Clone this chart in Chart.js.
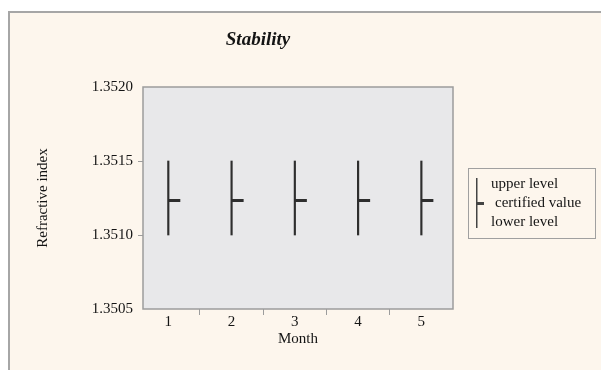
<!DOCTYPE html>
<html><head><meta charset="utf-8">
<script src="https://cdn.jsdelivr.net/npm/chart.js@4/dist/chart.umd.min.js"></script>
<style>html,body{margin:0;padding:0;background:#fff;overflow:hidden;}</style>
</head><body>
<canvas id="c" width="601" height="370"></canvas>
<script>
const months = [1, 2, 3, 4, 5];
const xTickLabels = ['1', '2', '3', '4', '5'];
const upperLevel = [1.3515, 1.3515, 1.3515, 1.3515, 1.3515];
const lowerLevel = [1.3510, 1.3510, 1.3510, 1.3510, 1.3510];
const certifiedValue = [1.35123, 1.35123, 1.35123, 1.35123, 1.35123];
const yTickValues = [1.3505, 1.3510, 1.3515, 1.3520];
const legendLabels = ['upper level', 'certified value', 'lower level'];
const chartTitle = 'Stability';
const xTitle = 'Month';
const yTitle = 'Refractive index';

const SERIF = '"Liberation Serif", "DejaVu Serif", serif';
const INK = '#141414';
const LINE = '#2e2e2e';
const GRAYB = '#9c9c9c';

// dash marker: drawn to the right of the point
const dash = document.createElement('canvas');
dash.width = 26; dash.height = 3;
(function(){ const g = dash.getContext('2d'); g.fillStyle = LINE; g.fillRect(13, 0, 12, 3); })();

const decor = {
  id: 'decor',
  beforeDraw(chart) {
    const ctx = chart.ctx, a = chart.chartArea;
    ctx.save();
    ctx.fillStyle = '#fff';
    ctx.fillRect(0, 0, chart.width, chart.height);
    ctx.fillStyle = '#a6a6a6';
    ctx.fillRect(8, 11, chart.width, chart.height);
    ctx.fillStyle = '#fdf6ed';
    ctx.fillRect(10, 13, chart.width, chart.height);
    ctx.fillStyle = '#e8e8ea';
    ctx.fillRect(a.left, a.top, a.right - a.left, a.bottom - a.top);
    ctx.restore();
  },
  afterDraw(chart) {
    const ctx = chart.ctx, a = chart.chartArea;
    ctx.save();
    ctx.strokeStyle = GRAYB; ctx.lineWidth = 1.5;
    ctx.strokeRect(a.left, a.top, a.right - a.left, a.bottom - a.top);
    // title
    ctx.fillStyle = INK;
    ctx.font = 'bold italic 19px ' + SERIF;
    ctx.textAlign = 'center'; ctx.textBaseline = 'middle';
    ctx.fillText(chartTitle, 258, 40);
    // legend
    ctx.strokeStyle = '#a0a0a0'; ctx.lineWidth = 1;
    ctx.strokeRect(468.5, 168.5, 127, 70);
    ctx.fillStyle = '#444';
    ctx.fillRect(476, 178, 1.5, 50);
    ctx.fillRect(477, 202, 7, 3);
    ctx.fillStyle = INK;
    ctx.font = '15px ' + SERIF;
    ctx.textAlign = 'left';
    ctx.fillText(legendLabels[0], 491, 184);
    ctx.fillText(legendLabels[1], 495, 203);
    ctx.fillText(legendLabels[2], 491, 222);
    ctx.restore();
  }
};

new Chart(document.getElementById('c'), {
  type: 'bar',
  data: {
    datasets: [
      {
        type: 'bar',
        data: months.map((m, i) => ({ x: m, y: [lowerLevel[i], upperLevel[i]] })),
        backgroundColor: LINE,
        borderWidth: 0,
        barThickness: 1.5,
        grouped: false,
        order: 2
      },
      {
        type: 'scatter',
        data: months.map((m, i) => ({ x: m, y: certifiedValue[i] })),
        pointStyle: dash,
        pointRadius: 6,
        pointHoverRadius: 6,
        order: 1
      }
    ]
  },
  options: {
    responsive: false,
    animation: false,
    events: [],
    layout: { padding: { left: 9, top: 87, right: 148, bottom: 0 } },
    plugins: { legend: { display: false }, tooltip: { enabled: false }, title: { display: false } },
    scales: {
      x: {
        type: 'linear',
        offset: false,
        min: 0.6, max: 5.5,
        afterBuildTicks: s => {
          const t = [];
          months.forEach((m, i) => { t.push({ value: m }); if (i < months.length - 1) t.push({ value: (m + months[i + 1]) / 2 }); });
          s.ticks = t;
        },
        afterFit: s => { s.height = 61; },
        ticks: {
          autoSkip: false, maxRotation: 0, padding: -2,
          color: INK, font: { family: SERIF, size: 15 },
          callback: v => { const k = months.indexOf(v); return k >= 0 ? xTickLabels[k] : ''; }
        },
        grid: {
          offset: false,
          drawOnChartArea: false, drawTicks: true, tickLength: 6, tickWidth: 1,
          tickColor: ctx => (ctx.tick && months.indexOf(ctx.tick.value) >= 0) ? 'rgba(0,0,0,0)' : GRAYB
        },
        border: { display: false },
        title: { display: true, text: xTitle, color: INK, font: { family: SERIF, size: 15 }, padding: { top: 0, bottom: 22 } }
      },
      y: {
        min: 1.3505, max: 1.3520,
        afterBuildTicks: s => { s.ticks = yTickValues.map(v => ({ value: v })); },
        afterFit: s => { s.width = 134; },
        ticks: { padding: 5, color: INK, font: { family: SERIF, size: 15 }, callback: v => Number(v).toFixed(4) },
        grid: {
          drawOnChartArea: false, drawTicks: true, tickLength: 5, tickWidth: 1,
          tickColor: ctx => (ctx.index === 0 || ctx.index === yTickValues.length - 1) ? 'rgba(0,0,0,0)' : GRAYB
        },
        border: { display: false },
        title: { display: true, text: yTitle, color: INK, font: { family: SERIF, size: 15 }, padding: { top: 25, bottom: 0 } }
      }
    }
  },
  plugins: [decor]
});
</script>
</body></html>
